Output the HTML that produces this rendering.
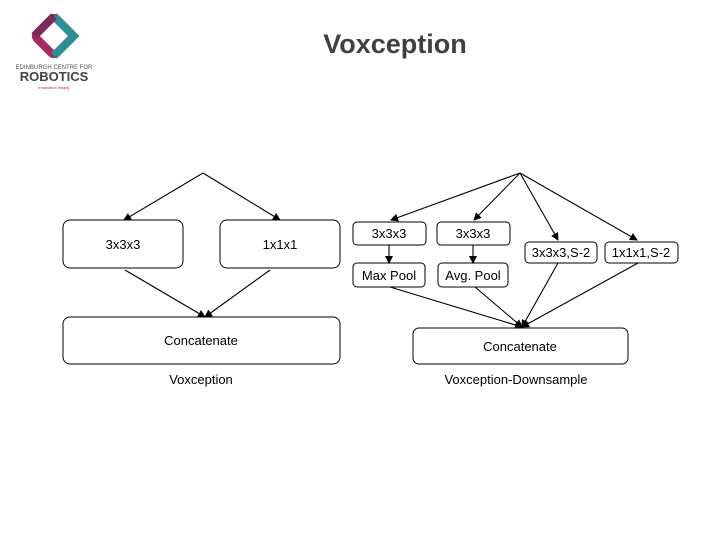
<!DOCTYPE html>
<html><head><style>
body{margin:0;width:720px;height:540px;background:#fff;overflow:hidden;position:relative;font-family:"Liberation Sans",sans-serif}
.t{position:absolute;left:250px;top:29px;width:290px;text-align:center;font-size:27px;font-weight:bold;color:#404040}
</style></head><body>
<div class="t">Voxception</div>
<svg width="720" height="540" style="position:absolute;left:0;top:0">
<defs><marker id="a" markerWidth="8" markerHeight="8" refX="7" refY="4" orient="auto" markerUnits="userSpaceOnUse"><path d="M0,0L8,4L0,8z" fill="#000"/></marker></defs>
<g transform="translate(54,36) rotate(45)">
<rect x="-14" y="-14" width="28" height="28" fill="none" stroke="#a8295f" stroke-width="8" rx="4"/>
<path d="M-14,-14 L14,-14 L14,14" fill="none" stroke="#2a8f96" stroke-width="8"/>
<path d="M-14,-14 L-14,14" fill="none" stroke="#7d2a5a" stroke-width="8"/>
</g>
<text x="54" y="69" font-size="6" text-anchor="middle" fill="#555">EDINBURGH CENTRE FOR</text>
<text x="54" y="81" font-size="13" font-weight="bold" text-anchor="middle" fill="#444">ROBOTICS</text>
<text x="54" y="89" font-size="4" text-anchor="middle" fill="#a8295f">innovation Ready</text>
<g fill="#fff" stroke="#000" stroke-width="1">
<rect x="63" y="220" width="120" height="48" rx="7"/>
<rect x="220" y="220" width="120" height="48" rx="7"/>
<rect x="63" y="317" width="277" height="47" rx="7"/>
<rect x="353" y="222" width="73" height="23" rx="4"/>
<rect x="437" y="222" width="73" height="23" rx="4"/>
<rect x="525" y="242" width="72" height="21" rx="4"/>
<rect x="605" y="242" width="73" height="21" rx="4"/>
<rect x="353" y="263" width="72" height="24" rx="4"/>
<rect x="438" y="263" width="70" height="24" rx="4"/>
<rect x="413" y="328" width="215" height="36" rx="6"/>
</g>
<g stroke="#000" stroke-width="1.1" marker-end="url(#a)">
<line x1="203" y1="173" x2="124" y2="220"/>
<line x1="203" y1="173" x2="280" y2="220"/>
<line x1="125" y1="270" x2="205" y2="317"/>
<line x1="270" y1="270" x2="205" y2="317"/>
<line x1="520" y1="173" x2="391" y2="220"/>
<line x1="520" y1="173" x2="474" y2="220"/>
<line x1="520" y1="173" x2="558" y2="240"/>
<line x1="520" y1="173" x2="637" y2="240"/>
<line x1="389" y1="245" x2="389" y2="263"/>
<line x1="473" y1="245" x2="473" y2="263"/>
<line x1="390" y1="287" x2="522" y2="327"/>
<line x1="475" y1="287" x2="522" y2="327"/>
<line x1="558" y1="263" x2="522" y2="327"/>
<line x1="638" y1="263" x2="522" y2="327"/>
</g>
<g font-size="13" text-anchor="middle" fill="#000">
<text x="123" y="249">3x3x3</text>
<text x="280" y="249">1x1x1</text>
<text x="201" y="345">Concatenate</text>
<text x="201" y="384">Voxception</text>
<text x="389" y="238">3x3x3</text>
<text x="473" y="238">3x3x3</text>
<text x="561" y="257">3x3x3,S-2</text>
<text x="641" y="257">1x1x1,S-2</text>
<text x="389" y="280">Max Pool</text>
<text x="473" y="280">Avg. Pool</text>
<text x="520" y="351">Concatenate</text>
<text x="516" y="384">Voxception-Downsample</text>
</g>
</svg>
</body></html>
